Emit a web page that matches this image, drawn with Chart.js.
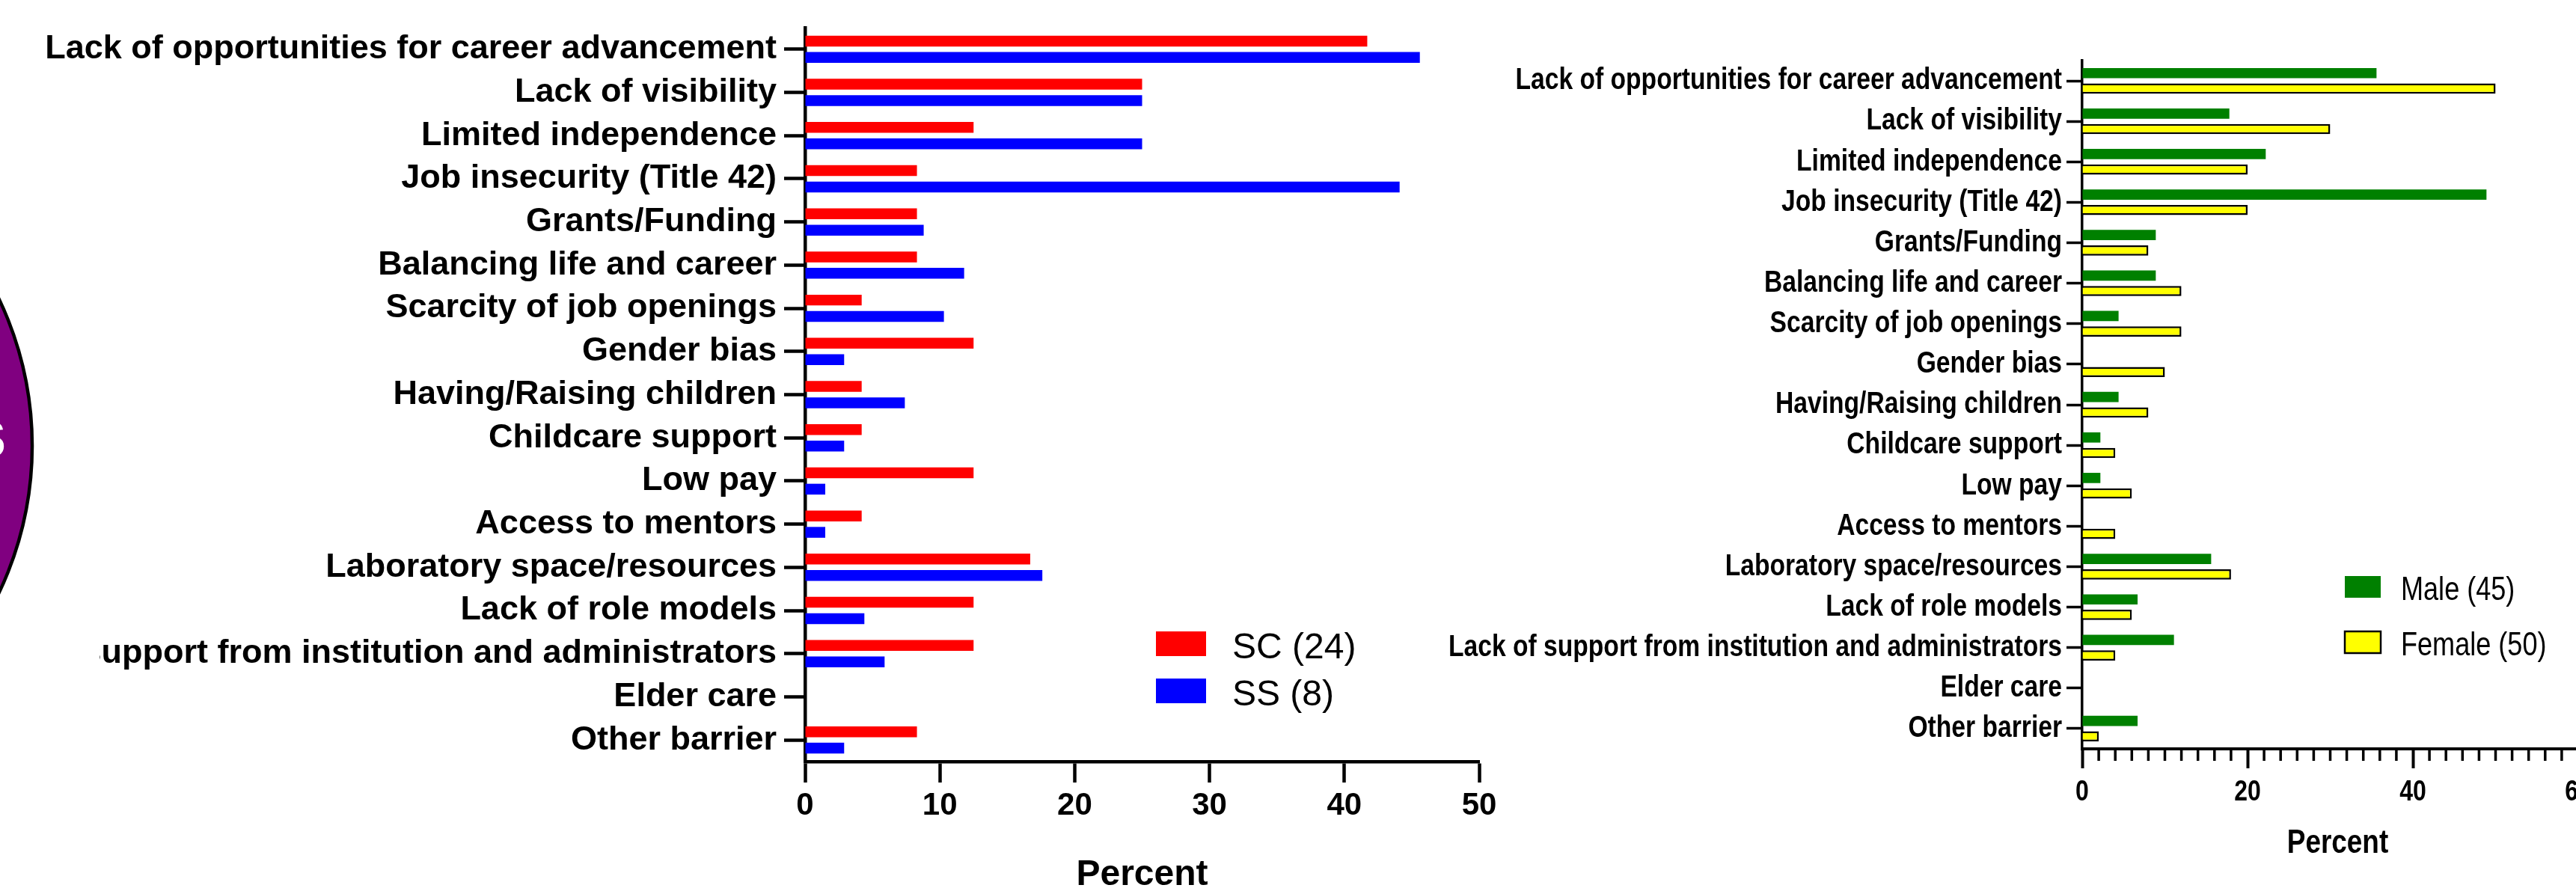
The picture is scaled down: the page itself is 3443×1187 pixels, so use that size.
<!DOCTYPE html>
<html>
<head>
<meta charset="utf-8">
<title>Barriers to career advancement</title>
<script src="https://cdn.jsdelivr.net/npm/chart.js@4.4.1/dist/chart.umd.min.js"></script>
<style>
  html, body { margin: 0; padding: 0; background: #fff; }
  body { width: 3443px; height: 1187px; overflow: hidden; position: relative; }
  main { position: relative; width: 3443px; height: 1187px; overflow: hidden; }
</style>
</head>
<body>
<main></main>
<script>
// Barriers to career advancement — two horizontal grouped bar panels
// Chart.js 4.x

// --- Data ---
const categories = [
    'Lack of opportunities for career advancement',
    'Lack of visibility',
    'Limited independence',
    'Job insecurity (Title 42)',
    'Grants/Funding',
    'Balancing life and career',
    'Scarcity of job openings',
    'Gender bias',
    'Having/Raising children',
    'Childcare support',
    'Low pay',
    'Access to mentors',
    'Laboratory space/resources',
    'Lack of role models',
    'Lack of support from institution and administrators',
    'Elder care',
    'Other barrier'
];

const scValues = [41.7, 25.0, 12.5, 8.3, 8.3, 8.3, 4.2, 12.5, 4.2, 4.2, 12.5, 4.2, 16.7, 12.5, 12.5, 0, 8.3];
const ssValues = [45.6, 25.0, 25.0, 44.1, 8.8, 11.8, 10.3, 2.9, 7.4, 2.9, 1.5, 1.5, 17.6, 4.4, 5.9, 0, 2.9];

const maleValues = [35.6, 17.8, 22.2, 48.9, 8.9, 8.9, 4.4, 0, 4.4, 2.2, 2.2, 0, 15.6, 6.7, 11.1, 0, 6.7];
const femaleValues = [50, 30, 20, 20, 8, 12, 12, 10, 8, 4, 6, 4, 18, 6, 4, 0, 2];

const leftTicks = [0, 10, 20, 30, 40, 50];
const rightTicks = [0, 20, 40, 60];
const rightMinorStep = 2;

document.addEventListener('DOMContentLoaded', function () {

    const main = document.querySelector('main');
    const SANS = '"Liberation Sans", Arial, sans-serif';
    const NARROW_SCALE = 0.82;   // no Arial Narrow installed: squeeze Liberation Sans instead
    const CANVAS_H = 1230;

    Chart.defaults.font.family = SANS;
    Chart.defaults.color = '#000';

    // --- Setup DOM elements ---
    function makePanel(left, width, height) {
        const box = document.createElement('div');
        box.style.position = 'absolute';
        box.style.left = left + 'px';
        box.style.top = '0px';
        box.style.width = width + 'px';
        box.style.height = height + 'px';
        main.appendChild(box);
        const canvas = document.createElement('canvas');
        canvas.width = width;
        canvas.height = height;
        canvas.style.width = width + 'px';
        canvas.style.height = height + 'px';
        box.appendChild(canvas);
        return canvas;
    }

    // draw text squeezed horizontally (narrow face)
    function narrowText(ctx, text, x, y, align, baseline, font) {
        ctx.save();
        ctx.font = font;
        ctx.fillStyle = '#000';
        ctx.textAlign = align;
        ctx.textBaseline = baseline;
        ctx.translate(x, y);
        ctx.scale(NARROW_SCALE, 1);
        ctx.fillText(text, 0, 0);
        ctx.restore();
    }

    // --- Custom plugin: boxed legend drawn inside the plot ---
    function boxLegend(id, opts) {
        return {
            id: id,
            afterDraw(chart) {
                const ctx = chart.ctx;
                ctx.save();
                chart.data.datasets.forEach(function (ds, i) {
                    const base = opts.baselines[i];
                    const top = base - opts.boxRise;
                    ctx.fillStyle = ds.backgroundColor;
                    ctx.fillRect(opts.boxX, top, opts.boxW, opts.boxH);
                    if (ds.borderWidth) {
                        ctx.lineWidth = ds.borderWidth;
                        ctx.strokeStyle = ds.borderColor;
                        ctx.strokeRect(opts.boxX, top, opts.boxW, opts.boxH);
                    }
                    if (opts.narrow) {
                        narrowText(ctx, ds.label, opts.textX, base, 'left', 'alphabetic', opts.font);
                    } else {
                        ctx.fillStyle = '#000';
                        ctx.font = opts.font;
                        ctx.textAlign = 'left';
                        ctx.textBaseline = 'alphabetic';
                        ctx.fillText(ds.label, opts.textX, base);
                    }
                });
                ctx.restore();
            }
        };
    }

    // --- Custom plugin: purple badge peeking in from the left edge ---
    const purpleBadge = {
        id: 'purpleBadge',
        afterDraw(chart) {
            const ctx = chart.ctx;
            ctx.save();
            // the badge image has a white backing that hides the start of the long label
            ctx.fillStyle = '#fff';
            ctx.fillRect(0, 135, 133, 925);
            ctx.beginPath();
            ctx.arc(-414, 596, 457, 0, Math.PI * 2);
            ctx.fillStyle = '#800080';
            ctx.fill();
            ctx.lineWidth = 4.5;
            ctx.strokeStyle = '#000';
            ctx.stroke();
            ctx.fillStyle = '#fff';
            ctx.font = 'bold 92px ' + SANS;
            ctx.textAlign = 'right';
            ctx.fillText('s', 9, 611);
            ctx.restore();
        }
    };

    // --- Custom plugin: right panel text (narrow) and minor ticks ---
    const rightAxisText = {
        id: 'rightAxisText',
        afterDraw(chart) {
            const ctx = chart.ctx;
            const xs = chart.scales.x;
            const ys = chart.scales.y;
            const area = chart.chartArea;

            // minor ticks every 2 %
            ctx.save();
            ctx.strokeStyle = '#000';
            ctx.lineWidth = 3.5;
            ctx.beginPath();
            for (let v = xs.min; v <= xs.max; v += rightMinorStep) {
                if (rightTicks.indexOf(v) !== -1) continue;
                const px = xs.getPixelForValue(v);
                ctx.moveTo(px, area.bottom);
                ctx.lineTo(px, area.bottom + 16);
            }
            ctx.stroke();
            ctx.restore();

            // category labels
            chart.data.labels.forEach(function (label, i) {
                narrowText(ctx, label, area.left - 27, ys.getPixelForTick(i), 'right', 'middle', 'bold 41px ' + SANS);
            });

            // value tick labels
            rightTicks.forEach(function (v) {
                narrowText(ctx, String(v), xs.getPixelForValue(v), area.bottom + 58, 'center', 'middle', 'bold 39px ' + SANS);
            });

            // axis title
            narrowText(ctx, 'Percent', (area.left + area.right) / 2 + 10, 1128, 'center', 'middle', 'bold 45px ' + SANS);
        }
    };

    // --- Left panel: SC vs SS ---
    const leftCanvas = makePanel(0, 2030, CANVAS_H);
    new Chart(leftCanvas, {
        type: 'bar',
        data: {
            labels: categories,
            datasets: [
                { label: 'SC (24)', data: scValues, backgroundColor: '#ff0000', borderWidth: 0 },
                { label: 'SS (8)', data: ssValues, backgroundColor: '#0000ff', borderWidth: 0 }
            ]
        },
        options: {
            indexAxis: 'y',
            responsive: false,
            animation: false,
            events: [],
            datasets: { bar: { categoryPercentage: 0.76, barPercentage: 0.66 } },
            layout: { padding: { left: 0, top: 37, right: 53, bottom: 0 } },
            plugins: { legend: { display: false }, tooltip: { enabled: false } },
            scales: {
                y: {
                    grid: { offset: false, drawOnChartArea: false, tickLength: 28, tickWidth: 4.5, tickColor: '#000' },
                    border: { display: true, color: '#000', width: 4.5 },
                    ticks: { autoSkip: false, color: '#000', padding: 10, font: { family: SANS, size: 45, weight: 'bold' } },
                    afterFit: function (scale) { scale.width = 1076; }
                },
                x: {
                    min: leftTicks[0],
                    max: leftTicks[leftTicks.length - 1],
                    afterBuildTicks: function (scale) { scale.ticks = leftTicks.map(v => ({ value: v })); },
                    grid: { drawOnChartArea: false, tickLength: 28, tickWidth: 4.5, tickColor: '#000' },
                    border: { display: true, color: '#000', width: 4.5 },
                    ticks: { color: '#000', padding: 6, maxRotation: 0, font: { family: SANS, size: 42, weight: 'bold' } },
                    title: {
                        display: true,
                        text: 'Percent',
                        color: '#000',
                        font: { family: SANS, size: 48, weight: 'bold' },
                        padding: { top: 0, bottom: 31 }
                    },
                    afterFit: function (scale) { scale.height = CANVAS_H - 1018; }
                }
            }
        },
        plugins: [purpleBadge, boxLegend('leftLegend', {
            boxX: 1545, boxW: 67, boxH: 33, boxRise: 36,
            textX: 1647, baselines: [880, 943],
            font: '48px ' + SANS
        })]
    });

    // --- Right panel: Male vs Female ---
    const rightLeft = 1900;
    const rightCanvas = makePanel(rightLeft, 1600, CANVAS_H);
    new Chart(rightCanvas, {
        type: 'bar',
        data: {
            labels: categories,
            datasets: [
                { label: 'Male (45)', data: maleValues, backgroundColor: '#008000', borderWidth: 0 },
                { label: 'Female (50)', data: femaleValues, backgroundColor: '#ffff00', borderColor: '#000', borderWidth: 2.5 }
            ]
        },
        options: {
            indexAxis: 'y',
            responsive: false,
            animation: false,
            events: [],
            datasets: { bar: { categoryPercentage: 0.765, barPercentage: 0.66 } },
            layout: { padding: { left: 0, top: 81, right: 54, bottom: 0 } },
            plugins: { legend: { display: false }, tooltip: { enabled: false } },
            scales: {
                y: {
                    grid: { offset: false, drawOnChartArea: false, tickLength: 21, tickWidth: 3.5, tickColor: '#000' },
                    border: { display: true, color: '#000', width: 3.5 },
                    ticks: { display: false, autoSkip: false },
                    afterFit: function (scale) { scale.width = 2783 - rightLeft; }
                },
                x: {
                    min: rightTicks[0],
                    max: rightTicks[rightTicks.length - 1],
                    afterBuildTicks: function (scale) { scale.ticks = rightTicks.map(v => ({ value: v })); },
                    grid: { drawOnChartArea: false, tickLength: 26, tickWidth: 4, tickColor: '#000' },
                    border: { display: true, color: '#000', width: 4 },
                    ticks: { display: false },
                    afterFit: function (scale) { scale.height = CANVAS_H - 1001; }
                }
            }
        },
        plugins: [rightAxisText, boxLegend('rightLegend', {
            boxX: 3134 - rightLeft, boxW: 48, boxH: 29, boxRise: 32,
            textX: 3209 - rightLeft, baselines: [802, 876],
            font: '44px ' + SANS, narrow: true
        })]
    });
});
</script>
</body>
</html>
